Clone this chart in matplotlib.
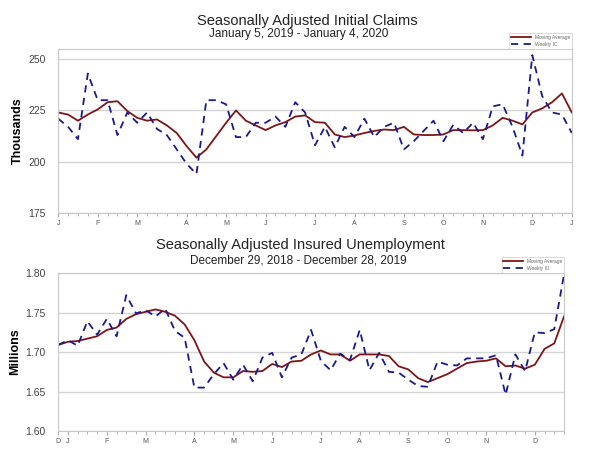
import matplotlib as mpl
mpl.use('Agg')
import matplotlib.pyplot as plt
from matplotlib.ticker import MultipleLocator, FixedLocator

plt.rcParams['font.family'] = ['Liberation Sans', 'DejaVu Sans']

# weekly initial claims, thousands, Jan 5 2019 - Jan 4 2020
ic_weekly = [221, 217, 211, 243, 230, 230, 213, 224, 219, 224, 216, 213, 206, 199,
             194, 230, 230, 228, 212, 212, 219, 219, 222, 217, 229, 224, 208, 217,
             207, 217, 212, 221, 212, 217, 219, 206, 210, 215, 220, 210, 218, 214,
             219, 211, 227, 228, 217, 203, 252, 232, 224, 223, 214]
ic_ma = [224, 223, 220, 223, 225.5, 229, 229.5, 224.7, 221.4, 220, 220.6, 217.7, 214,
         207.6, 202, 206, 212.5, 219, 225, 220, 217.7, 215.4, 217.7, 219.3, 222, 222.6,
         219.3, 219, 213.3, 212, 212.8, 214, 215, 215.7, 215.4, 217, 213.3, 213, 213,
         213.3, 215.4, 215.4, 215.3, 215.4, 217.7, 221.4, 220, 218.2, 224, 226, 229,
         233.3, 224]
ic_months = ['J', 'F', 'M', 'A', 'M', 'J', 'J', 'A', 'S', 'O', 'N', 'D', 'J']
ic_month_weeks = [0, 4, 8, 13, 17, 21, 26, 30, 35, 39, 43, 48, 52]

# weekly insured unemployment, millions, Dec 29 2018 - Dec 28 2019
iu_weekly = [1.709, 1.715, 1.708, 1.739, 1.722, 1.742, 1.720, 1.772, 1.749, 1.753,
             1.745, 1.755, 1.727, 1.718, 1.655, 1.655, 1.672, 1.686, 1.665, 1.684,
             1.663, 1.693, 1.699, 1.668, 1.693, 1.697, 1.728, 1.689, 1.677, 1.698,
             1.690, 1.728, 1.677, 1.699, 1.675, 1.674, 1.665, 1.657, 1.656, 1.688,
             1.684, 1.683, 1.692, 1.692, 1.692, 1.696, 1.646, 1.697, 1.676, 1.725,
             1.724, 1.729, 1.798]
iu_ma = [1.709, 1.713, 1.714, 1.717, 1.720, 1.728, 1.731, 1.742, 1.748, 1.751, 1.754,
         1.751, 1.746, 1.735, 1.715, 1.688, 1.674, 1.668, 1.668, 1.676, 1.675, 1.676,
         1.685, 1.681, 1.688, 1.689, 1.697, 1.702, 1.697, 1.697, 1.689, 1.697, 1.697,
         1.697, 1.695, 1.682, 1.678, 1.667, 1.662, 1.667, 1.672, 1.679, 1.686, 1.688,
         1.689, 1.692, 1.682, 1.683, 1.679, 1.684, 1.704, 1.711, 1.745]
iu_months = ['D', 'J', 'F', 'M', 'A', 'M', 'J', 'J', 'A', 'S', 'O', 'N', 'D']
iu_month_weeks = [0, 1, 5, 9, 14, 18, 22, 27, 31, 36, 40, 44, 49]

red = '#7f1416'
blue = '#1a1a8c'
grid = '#d4d4d4'


def style(ax, ticks, labels, n):
    for s in ax.spines.values():
        s.set_color('#c8c8c8')
        s.set_linewidth(0.8)
    ax.yaxis.grid(True, color=grid, linewidth=1)
    ax.set_axisbelow(True)
    ax.set_xlim(0, n - 1)
    ax.set_xticks(ticks)
    ax.set_xticklabels(labels, fontsize=5, color='#555555')
    ax.xaxis.set_minor_locator(FixedLocator(range(n)))
    ax.tick_params(axis='x', which='major', length=3, color='#aaaaaa', pad=2)
    ax.tick_params(axis='x', which='minor', length=2, color='#aaaaaa')
    ax.tick_params(axis='y', length=0, labelsize=7.5, colors='#444444', pad=9)


fig = plt.figure(figsize=(6, 4.66), dpi=100)

ax1 = fig.add_axes([0.097, 0.543, 0.856, 0.352])
x1 = range(len(ic_weekly))
ax1.plot(x1, ic_ma, color=red, linewidth=1.3, label='Moving Average')
ax1.plot(x1, ic_weekly, color=blue, linewidth=1.3, linestyle=(0, (4, 3)), label='Weekly IC')
ax1.set_ylim(175, 255)
ax1.yaxis.set_major_locator(MultipleLocator(25))
style(ax1, ic_month_weeks, ic_months, len(ic_weekly))
ax1.set_ylabel('Thousands', fontsize=9, fontweight='bold', labelpad=3)
leg = ax1.legend(loc='lower right', bbox_to_anchor=(1.0, 1.0), fontsize=3.5, frameon=True,
                 fancybox=False, borderaxespad=0, handlelength=4, borderpad=0.4, labelspacing=0.5)
leg.get_frame().set_edgecolor('#c8c8c8')
leg.get_frame().set_linewidth(0.6)
for t in leg.get_texts():
    t.set_color('#666666')

ax2 = fig.add_axes([0.097, 0.075, 0.843, 0.339])
x2 = range(len(iu_weekly))
ax2.plot(x2, iu_ma, color=red, linewidth=1.3, label='Moving Average')
ax2.plot(x2, iu_weekly, color=blue, linewidth=1.3, linestyle=(0, (4, 3)), label='Weekly IU')
ax2.set_ylim(1.60, 1.80)
ax2.yaxis.set_major_locator(MultipleLocator(0.05))
ax2.yaxis.set_major_formatter(mpl.ticker.FormatStrFormatter('%.2f'))
style(ax2, iu_month_weeks, iu_months, len(iu_weekly))
ax2.set_ylabel('Millions', fontsize=9, fontweight='bold', labelpad=3)
leg2 = ax2.legend(loc='lower right', bbox_to_anchor=(1.0, 1.0), fontsize=3.5, frameon=True,
                  fancybox=False, borderaxespad=0, handlelength=4, borderpad=0.4, labelspacing=0.5)
leg2.get_frame().set_edgecolor('#c8c8c8')
leg2.get_frame().set_linewidth(0.6)
for t in leg2.get_texts():
    t.set_color('#666666')

fig.text(0.513, 0.955, 'Seasonally Adjusted Initial Claims', ha='center', va='center',
         fontsize=10.5, color='#222222')
fig.text(0.497, 0.927, 'January 5, 2019 - January 4, 2020', ha='center', va='center',
         fontsize=8.5, color='#222222')
fig.text(0.5, 0.474, 'Seasonally Adjusted Insured Unemployment', ha='center', va='center',
         fontsize=10.5, color='#222222')
fig.text(0.497, 0.442, 'December 29, 2018 - December 28, 2019', ha='center', va='center',
         fontsize=8.5, color='#222222')

plt.savefig('out.png', dpi=100)
plt.close()
